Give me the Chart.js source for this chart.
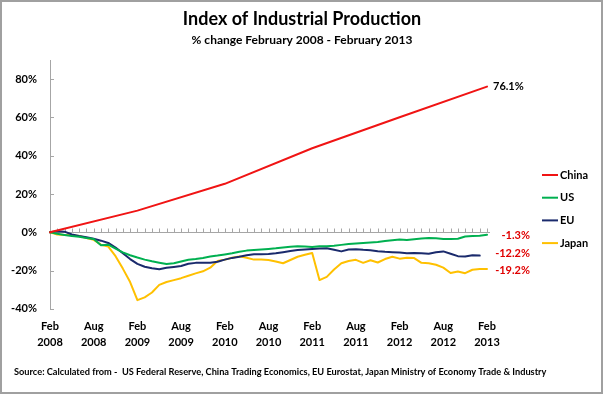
<!DOCTYPE html>
<html><head><meta charset="utf-8">
<script src="https://cdn.jsdelivr.net/npm/chart.js@4.4.1/dist/chart.umd.min.js"></script>
<style>html,body{margin:0;padding:0;background:#fff;}canvas{display:block;}</style>
</head><body>
<canvas id="c" width="604" height="396"></canvas>
<script>
// ---- data ----
const MONTH_NAMES = ['Jan','Feb','Mar','Apr','May','Jun','Jul','Aug','Sep','Oct','Nov','Dec'];
const categories = [];
for (let i = 0; i < 61; i++) { const m = 1 + i; categories.push(MONTH_NAMES[m % 12] + ' ' + (2008 + Math.floor(m / 12))); }

const tickLabels = [['Feb','2008'],['Aug','2008'],['Feb','2009'],['Aug','2009'],['Feb','2010'],['Aug','2010'],
                    ['Feb','2011'],['Aug','2011'],['Feb','2012'],['Aug','2012'],['Feb','2013']];
const yTickValues = [-40,-20,0,20,40,60,80];

const chinaDates  = ['Feb 2008','Feb 2009','Feb 2010','Feb 2011','Feb 2012','Feb 2013'];
const chinaValues = [0, 11.3, 25.3, 43.9, 60.1, 76.1];

const usValues = [0,-0.8,-1.4,-2.0,-2.4,-3.0,-3.5,-6.8,-6.5,-8.5,
  -10.5,-12.0,-13.2,-14.3,-15.2,-15.9,-16.6,-16.2,-15.3,-14.4,
  -14.0,-13.4,-12.7,-12.2,-11.6,-11.0,-10.2,-9.6,-9.3,-9.0,
  -8.7,-8.4,-8.0,-7.6,-7.3,-7.5,-7.7,-7.3,-7.3,-7.0,
  -6.6,-6.2,-5.9,-5.6,-5.3,-5.1,-4.6,-4.2,-3.8,-4.1,
  -3.6,-3.3,-3.0,-3.2,-3.5,-3.5,-3.4,-2.2,-2.0,-1.8,-1.3];

const euValues = [0,0.5,0.3,-1.2,-2.0,-2.6,-3.4,-4.4,-5.6,-8.0,
  -11.0,-14.0,-16.5,-18.0,-18.8,-19.3,-18.6,-18.1,-17.6,-16.5,
  -16.0,-16.0,-15.9,-15.4,-14.3,-13.4,-12.8,-12.0,-11.5,-11.5,
  -11.4,-11.0,-10.4,-9.8,-9.3,-9.0,-8.7,-8.5,-8.4,-9.2,
  -10.0,-9.0,-8.9,-9.2,-9.4,-9.9,-10.2,-10.4,-10.6,-11.0,
  -10.8,-11.0,-11.2,-10.5,-10.0,-11.2,-12.5,-12.7,-12.0,-12.2,null];

const japanValues = [0,-1.2,-1.5,-1.5,-2.0,-3.0,-4.0,-6.5,-7.5,-12.5,
  -19.0,-26.0,-35.5,-34.0,-31.5,-27.5,-26.0,-25.0,-24.0,-22.7,
  -21.5,-20.4,-18.5,-15.0,-14.3,-13.3,-12.6,-13.3,-14.3,-14.3,
  -14.5,-15.3,-16.2,-14.5,-12.8,-11.8,-10.8,-25.0,-23.3,-19.5,
  -16.2,-15.0,-14.4,-16.0,-14.6,-15.8,-14.0,-12.8,-13.8,-13.3,
  -13.5,-16.0,-16.2,-17.0,-18.5,-21.3,-20.5,-21.4,-19.6,-19.2,-19.2];

const seriesNames = ['China','US','EU','Japan'];
const titleText = 'Index of Industrial Production';
const subtitleText = '% change February 2008 - February 2013';
const sourceText = 'Source: Calculated from -  US Federal Reserve, China Trading Economics, EU Eurostat, Japan Ministry of Economy Trade & Industry';

// ---- styles ----
const FONT = 'Lato, "Liberation Sans", sans-serif';
const COLORS = ['#f01414', '#00b050', '#1a2a6c', '#ffc000'];
const AXIS_GRAY = '#a6a6a6';

const decor = {
  id: 'decor',
  beforeDraw(chart) {
    const ctx = chart.ctx;
    ctx.save(); ctx.fillStyle = '#fff'; ctx.fillRect(0, 0, chart.width, chart.height); ctx.restore();
  },
  beforeDatasetsDraw(chart) {
    const ctx = chart.ctx, x = chart.scales.x, y = chart.scales.y, a = chart.chartArea;
    const y0 = Math.round(y.getPixelForValue(0)) + 0.5;
    ctx.save();
    ctx.strokeStyle = AXIS_GRAY; ctx.lineWidth = 1;
    ctx.beginPath();
    ctx.moveTo(a.left, y0); ctx.lineTo(x.getPixelForValue(categories.length - 1) + 3, y0);
    for (let i = 0; i < categories.length; i++) {
      const px = Math.round(x.getPixelForValue(i)) + 0.5;
      ctx.moveTo(px, y0); ctx.lineTo(px, y0 - 4);
    }
    yTickValues.forEach(v => {
      const py = Math.round(y.getPixelForValue(v)) + 0.5;
      ctx.moveTo(a.left, py); ctx.lineTo(a.left + 4, py);
    });
    ctx.stroke();
    ctx.restore();
  },
  afterDraw(chart) {
    const ctx = chart.ctx, a = chart.chartArea;
    ctx.save();
    // legend
    ctx.font = 'bold 11px ' + FONT; ctx.textBaseline = 'middle'; ctx.textAlign = 'left';
    chart.data.datasets.forEach((ds, i) => {
      const ly = 175 + i * 22.7;
      ctx.strokeStyle = ds.borderColor; ctx.lineWidth = 2;
      ctx.beginPath(); ctx.moveTo(542, ly); ctx.lineTo(558, ly); ctx.stroke();
      ctx.fillStyle = '#000'; ctx.fillText(ds.label, 560, ly);
    });
    // end labels
    const dy = [0, 1, -2.5, 1];
    chart.data.datasets.forEach((ds, i) => {
      const meta = chart.getDatasetMeta(i);
      let last = -1;
      for (let k = ds.data.length - 1; k >= 0; k--) {
        const d = ds.data[k]; const v = (d && typeof d === 'object') ? d.y : d;
        if (v !== null && v !== undefined) { last = k; break; }
      }
      const d = ds.data[last]; const v = (d && typeof d === 'object') ? d.y : d;
      const pt = meta.data[last];
      const txt = v.toFixed(1) + '%';
      if (v >= 0) {
        ctx.fillStyle = '#000'; ctx.textAlign = 'left';
        ctx.fillText(txt, pt.x + 6, pt.y + dy[i]);
      } else {
        ctx.fillStyle = '#e00000'; ctx.textAlign = 'right';
        ctx.fillText(txt, a.right + 43, pt.y + dy[i]);
      }
    });
    // source
    ctx.fillStyle = '#000'; ctx.textAlign = 'left';
    ctx.font = 'bold 10px ' + FONT;
    const w = ctx.measureText(sourceText).width;
    const fs = 10 * 533 / w;
    ctx.font = 'bold ' + fs.toFixed(2) + 'px ' + FONT;
    ctx.fillText(sourceText, 14, 372);
    // frame
    ctx.strokeStyle = '#a0a0a0'; ctx.lineWidth = 2;
    ctx.strokeRect(1, 1, 601, 392);
    ctx.restore();
  }
};

new Chart(document.getElementById('c'), {
  type: 'line',
  data: {
    labels: categories,
    datasets: [
      { label: seriesNames[0], data: chinaDates.map((d, i) => ({ x: d, y: chinaValues[i] })), borderColor: COLORS[0], backgroundColor: COLORS[0] },
      { label: seriesNames[1], data: usValues, borderColor: COLORS[1], backgroundColor: COLORS[1] },
      { label: seriesNames[2], data: euValues, borderColor: COLORS[2], backgroundColor: COLORS[2] },
      { label: seriesNames[3], data: japanValues, borderColor: COLORS[3], backgroundColor: COLORS[3] }
    ]
  },
  options: {
    responsive: false, animation: false, devicePixelRatio: 1,
    spanGaps: true,
    elements: { point: { radius: 0, hoverRadius: 0 }, line: { borderWidth: 2, tension: 0, borderCapStyle: 'round', borderJoinStyle: 'round' } },
    layout: { padding: { top: 0, left: 0, right: 0, bottom: 0 } },
    plugins: {
      legend: { display: false },
      tooltip: { enabled: false },
      title: { display: true, text: titleText, color: '#000', font: { family: FONT, size: 18, weight: 'bold' }, padding: { top: 8, bottom: 0 } },
      subtitle: { display: true, text: subtitleText, color: '#000', font: { family: FONT, size: 12, weight: 'bold' }, padding: { top: 3, bottom: 13 } }
    },
    scales: {
      x: {
        type: 'category', offset: false,
        grid: { display: false, drawTicks: false },
        border: { display: false },
        ticks: {
          autoSkip: false, maxRotation: 0, minRotation: 0, padding: 9.2, color: '#000',
          font: { family: FONT, size: 11, weight: 'bold', lineHeight: 1.4545 },
          callback: (v, i) => (i % 6 === 0 ? tickLabels[i / 6] : null)
        },
        afterFit: s => { s.height = 396 - 308.8; }
      },
      y: {
        min: -40, max: 90,
        grid: { display: false, drawTicks: false },
        border: { display: true, color: AXIS_GRAY, width: 1 },
        afterBuildTicks: s => { s.ticks = yTickValues.map(v => ({ value: v })); },
        ticks: { padding: 13, color: '#000', font: { family: FONT, size: 11, weight: 'bold' }, callback: v => v + '%' },
        afterFit: s => { s.width = 50; }
      },
      ySpacer: {
        type: 'linear', axis: 'y', position: 'right', display: true,
        grid: { display: false, drawTicks: false },
        border: { display: false },
        ticks: { display: false },
        afterFit: s => { s.width = 604 - 487; }
      }
    }
  },
  plugins: [decor]
});
</script>
</body></html>
